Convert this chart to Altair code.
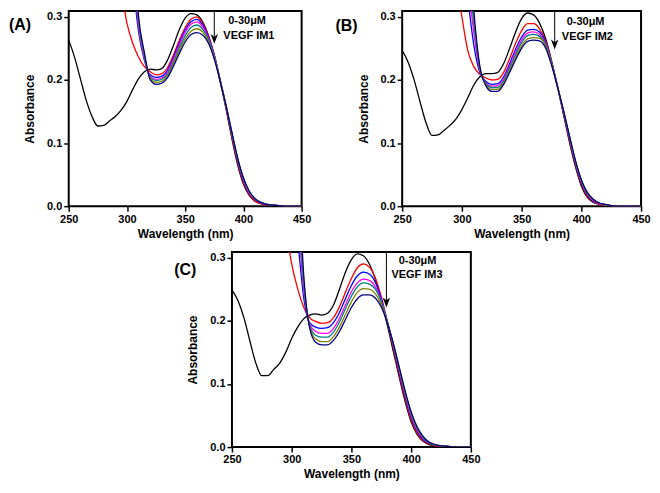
import altair as alt
import pandas as pd

FONT = "Liberation Sans"

BLACK_WL = [250, 255, 260, 265, 270, 275, 280, 285, 290, 295, 300, 305, 310, 315, 320, 325, 330,
            335, 340, 345, 350, 355, 360, 365, 370, 375, 380, 385, 390, 395, 400, 405, 410, 415,
            420, 430, 440, 450]
COLOR_WL = [295, 300, 305, 310, 315, 320, 325, 330, 335, 340, 345, 350, 355, 360, 365, 370, 375,
            380, 385, 390, 395, 400, 405, 410, 415, 420, 430, 440, 450]

# ---------------- Panel A ----------------
A_BLACK = [0.263, 0.236, 0.202, 0.168, 0.142, 0.127, 0.128, 0.135, 0.142, 0.152, 0.166, 0.185, 0.202,
           0.213, 0.217, 0.216, 0.218, 0.232, 0.255, 0.280, 0.298, 0.305, 0.303, 0.292, 0.270, 0.238,
           0.198, 0.155, 0.108, 0.066, 0.035, 0.017, 0.008, 0.004, 0.002, 0.001, 0.0, 0.0]
A_RED = [0.345, 0.290, 0.258, 0.236, 0.221, 0.213, 0.208, 0.210, 0.220, 0.240, 0.263, 0.283, 0.296,
         0.300, 0.290, 0.270, 0.240, 0.200, 0.157, 0.111, 0.069, 0.037, 0.018, 0.008, 0.004, 0.002,
         0.001, 0.0, 0.0]
A_BLUE = [0.60, 0.46, 0.36, 0.276, 0.231, 0.208, 0.204, 0.206, 0.216, 0.236, 0.259, 0.279, 0.292,
          0.296, 0.287, 0.268, 0.239, 0.200, 0.159, 0.114, 0.072, 0.040, 0.020, 0.010, 0.005, 0.003,
          0.001, 0.0, 0.0]
A_MAGENTA = [0.65, 0.50, 0.38, 0.283, 0.234, 0.206, 0.201, 0.203, 0.213, 0.233, 0.255, 0.275, 0.288,
             0.292, 0.284, 0.266, 0.238, 0.200, 0.160, 0.115, 0.074, 0.042, 0.021, 0.011, 0.005,
             0.003, 0.001, 0.0, 0.0]
A_TEAL = [0.70, 0.54, 0.40, 0.290, 0.237, 0.204, 0.199, 0.201, 0.210, 0.229, 0.251, 0.270, 0.283,
          0.287, 0.280, 0.264, 0.237, 0.200, 0.160, 0.116, 0.075, 0.043, 0.022, 0.011, 0.006, 0.003,
          0.001, 0.0, 0.0]
A_OLIVE = [0.75, 0.58, 0.42, 0.295, 0.240, 0.202, 0.196, 0.198, 0.207, 0.226, 0.247, 0.265, 0.277,
           0.281, 0.276, 0.261, 0.235, 0.199, 0.160, 0.117, 0.076, 0.044, 0.023, 0.012, 0.006, 0.003,
           0.001, 0.0, 0.0]
A_NAVY = [0.80, 0.62, 0.44, 0.300, 0.243, 0.200, 0.193, 0.195, 0.204, 0.222, 0.242, 0.260, 0.272,
          0.275, 0.271, 0.258, 0.233, 0.198, 0.160, 0.118, 0.077, 0.045, 0.024, 0.012, 0.006, 0.003,
          0.001, 0.0, 0.0]

# ---------------- Panel B ----------------
B_BLACK = [0.247, 0.228, 0.200, 0.165, 0.132, 0.112, 0.113, 0.120, 0.128, 0.138, 0.153, 0.172, 0.192,
           0.205, 0.210, 0.210, 0.212, 0.226, 0.250, 0.276, 0.297, 0.306, 0.303, 0.290, 0.266, 0.231,
           0.190, 0.146, 0.102, 0.063, 0.032, 0.014, 0.006, 0.003, 0.001, 0.0, 0.0, 0.0]
B_RED = [0.36, 0.300, 0.246, 0.221, 0.209, 0.203, 0.200, 0.201, 0.212, 0.234, 0.258, 0.278, 0.289,
         0.289, 0.281, 0.262, 0.229, 0.190, 0.148, 0.105, 0.066, 0.035, 0.016, 0.007, 0.003, 0.001,
         0.0, 0.0, 0.0]
B_BLUE = [0.55, 0.42, 0.33, 0.255, 0.212, 0.198, 0.193, 0.194, 0.205, 0.226, 0.249, 0.268, 0.279,
          0.280, 0.276, 0.260, 0.228, 0.190, 0.149, 0.107, 0.068, 0.037, 0.018, 0.008, 0.004, 0.002,
          0.0, 0.0, 0.0]
B_MAGENTA = [0.62, 0.48, 0.36, 0.275, 0.215, 0.196, 0.190, 0.191, 0.202, 0.222, 0.244, 0.263, 0.274,
             0.276, 0.272, 0.258, 0.228, 0.190, 0.150, 0.109, 0.070, 0.039, 0.019, 0.009, 0.004,
             0.002, 0.0, 0.0, 0.0]
B_TEAL = [0.68, 0.52, 0.39, 0.290, 0.218, 0.195, 0.188, 0.188, 0.199, 0.219, 0.240, 0.259, 0.270,
          0.272, 0.269, 0.256, 0.227, 0.190, 0.151, 0.110, 0.071, 0.040, 0.020, 0.010, 0.005, 0.002,
          0.0, 0.0, 0.0]
B_OLIVE = [0.74, 0.56, 0.42, 0.300, 0.220, 0.193, 0.185, 0.185, 0.196, 0.215, 0.236, 0.254, 0.265,
           0.267, 0.266, 0.254, 0.226, 0.190, 0.152, 0.111, 0.072, 0.041, 0.021, 0.010, 0.005, 0.002,
           0.0, 0.0, 0.0]
B_NAVY = [0.80, 0.60, 0.45, 0.310, 0.222, 0.191, 0.182, 0.182, 0.193, 0.212, 0.232, 0.250, 0.261,
          0.263, 0.262, 0.251, 0.224, 0.189, 0.152, 0.112, 0.073, 0.042, 0.022, 0.011, 0.005, 0.003,
          0.0, 0.0, 0.0]

# ---------------- Panel C ----------------
C_BLACK = [0.249, 0.232, 0.205, 0.168, 0.133, 0.113, 0.113, 0.123, 0.133, 0.150, 0.172, 0.190, 0.203,
           0.209, 0.211, 0.209, 0.212, 0.225, 0.250, 0.277, 0.297, 0.306, 0.303, 0.290, 0.266, 0.232,
           0.194, 0.152, 0.111, 0.072, 0.040, 0.020, 0.009, 0.004, 0.002, 0.001, 0.0, 0.0]
C_RED = [0.35, 0.290, 0.251, 0.222, 0.205, 0.199, 0.196, 0.197, 0.205, 0.222, 0.245, 0.267, 0.284,
         0.290, 0.285, 0.268, 0.238, 0.199, 0.157, 0.115, 0.076, 0.043, 0.022, 0.010, 0.005, 0.002,
         0.001, 0.0, 0.0]
C_BLUE = [0.55, 0.42, 0.33, 0.238, 0.197, 0.190, 0.188, 0.189, 0.197, 0.213, 0.235, 0.256, 0.271,
          0.277, 0.274, 0.261, 0.235, 0.199, 0.160, 0.119, 0.080, 0.047, 0.025, 0.012, 0.006, 0.003,
          0.001, 0.0, 0.0]
C_TEAL = [0.62, 0.48, 0.37, 0.250, 0.195, 0.183, 0.180, 0.180, 0.188, 0.204, 0.225, 0.246, 0.260,
          0.266, 0.264, 0.254, 0.232, 0.199, 0.162, 0.122, 0.083, 0.050, 0.027, 0.014, 0.007, 0.003,
          0.001, 0.0, 0.0]
C_MAGENTA = [0.68, 0.52, 0.40, 0.258, 0.193, 0.177, 0.174, 0.174, 0.182, 0.198, 0.219, 0.239, 0.254,
             0.260, 0.258, 0.250, 0.230, 0.199, 0.163, 0.124, 0.085, 0.052, 0.029, 0.015, 0.007,
             0.003, 0.001, 0.0, 0.0]
C_OLIVE = [0.74, 0.56, 0.43, 0.266, 0.191, 0.171, 0.167, 0.167, 0.175, 0.190, 0.210, 0.230, 0.245,
           0.251, 0.250, 0.243, 0.226, 0.198, 0.164, 0.125, 0.087, 0.054, 0.030, 0.016, 0.008, 0.004,
           0.001, 0.0, 0.0]
C_NAVY = [0.80, 0.60, 0.46, 0.275, 0.189, 0.166, 0.162, 0.162, 0.169, 0.183, 0.202, 0.221, 0.235,
          0.241, 0.241, 0.236, 0.222, 0.197, 0.165, 0.127, 0.089, 0.056, 0.032, 0.017, 0.008, 0.004,
          0.001, 0.0, 0.0]

X_TICKS = [250, 275, 300, 325, 350, 375, 400, 425, 450]
Y_TICKS = [0.0, 0.05, 0.1, 0.15, 0.2, 0.25, 0.3]

BLACK = "#000000"
RED = "#ff0000"
BLUE = "#0000ff"
MAGENTA = "#ff00ff"
TEAL = "#008080"
OLIVE = "#808000"
NAVY = "#000080"


def build_df(black, colored):
    rows = [{"wl": w, "absorb": v, "s": "s0"} for w, v in zip(BLACK_WL, black)]
    for i, ys in enumerate(colored, start=1):
        rows += [{"wl": w, "absorb": v, "s": f"s{i}"} for w, v in zip(COLOR_WL, ys)]
    return pd.DataFrame(rows)


ONE = pd.DataFrame({"k": [0]})
ARROW_PATH = "M0,1L-0.75,-1L0,-0.45L0.75,-1Z"


def panel(df, colors, letter, name, width, height, letter_x, letter_y,
          arrow_x, head_y, t1_x, t1_y, t2_x, t2_y):
    x = alt.X("wl:Q",
              scale=alt.Scale(domain=[250, 450], nice=False, zero=False),
              axis=alt.Axis(values=X_TICKS, title="Wavelength (nm)",
                            labelExpr="datum.value % 50 === 0 ? datum.label : ''",
                            tickSize={"condition": {"test": "datum.value % 50 === 0", "value": 5},
                                      "value": 2.5},
                            labelFlush=False, labelOverlap=False, domain=False,
                            labelPadding=2, titlePadding=4, grid=False))
    y = alt.Y("absorb:Q",
              scale=alt.Scale(domain=[0, 0.309], nice=False, zero=False),
              axis=alt.Axis(values=Y_TICKS, title="Absorbance",
                            labelExpr="round(datum.value*100) % 10 === 0 ? format(datum.value, '.1f') : ''",
                            tickSize={"condition": {"test": "round(datum.value*100) % 10 === 0", "value": 5},
                                      "value": 2.5},
                            labelOverlap=False, domain=False, labelPadding=2,
                            titlePadding=10, grid=False))
    lines = alt.Chart(df).mark_line(clip=True, strokeWidth=1.3, interpolate="monotone").encode(
        x=x, y=y,
        color=alt.Color("s:N", scale=alt.Scale(domain=[f"s{i}" for i in range(len(colors))],
                                               range=colors), legend=None),
    )
    base = alt.Chart(ONE)
    rule = base.mark_rule(color="black", strokeWidth=1).encode(
        x=alt.datum(arrow_x), y=alt.datum(0.309), y2=alt.datum(head_y + 0.003))
    head = base.mark_point(shape=ARROW_PATH, filled=True, size=100, color="black",
                           opacity=1, strokeWidth=0).encode(
        x=alt.datum(arrow_x), y=alt.datum(head_y))
    txt_style = dict(align="left", baseline="alphabetic", font=FONT, fontSize=11,
                     fontWeight="bold", color="black")
    t1 = base.mark_text(**txt_style).encode(x=alt.datum(t1_x), y=alt.datum(t1_y),
                                            text=alt.value("0-30μM"))
    t2 = base.mark_text(**txt_style).encode(x=alt.datum(t2_x), y=alt.datum(t2_y),
                                            text=alt.value(name))
    lab = base.mark_text(align="left", baseline="middle", font=FONT, fontSize=16,
                         fontWeight="bold", color="black").encode(
        x=alt.value(letter_x), y=alt.value(letter_y), text=alt.value(letter))
    return alt.layer(lines, rule, head, t1, t2, lab).properties(width=width, height=height)


panel_a = panel(build_df(A_BLACK, [A_RED, A_BLUE, A_MAGENTA, A_TEAL, A_OLIVE, A_NAVY]),
                [BLACK, RED, BLUE, MAGENTA, TEAL, OLIVE, NAVY], "(A)", "VEGF IM1",
                234, 196, -60, 14, 375, 0.265, 387, 0.288, 382.8, 0.265)
panel_b = panel(build_df(B_BLACK, [B_RED, B_BLUE, B_MAGENTA, B_TEAL, B_OLIVE, B_NAVY]),
                [BLACK, RED, BLUE, MAGENTA, TEAL, OLIVE, NAVY], "(B)", "VEGF IM2",
                240, 196, -67, 15, 377.7, 0.256, 387.8, 0.287, 383.7, 0.264)
panel_c = panel(build_df(C_BLACK, [C_RED, C_BLUE, C_TEAL, C_MAGENTA, C_OLIVE, C_NAVY]),
                [BLACK, RED, BLUE, TEAL, MAGENTA, OLIVE, NAVY], "(C)", "VEGF IM3",
                240, 196, -58, 18, 379.3, 0.229, 389.6, 0.2907, 383.5, 0.267)

spacer = alt.Chart(ONE).mark_point(opacity=0).encode(
    x=alt.value(0), y=alt.value(0)).properties(
    width=104, height=10, view=alt.ViewBackground(stroke="transparent"))

top = alt.hconcat(panel_a, panel_b, spacing=22)
bottom = alt.hconcat(spacer, panel_c, spacing=0)

chart = alt.vconcat(top, bottom, spacing=8).properties(padding=0).configure_view(
    stroke="black", strokeWidth=2
).configure_axis(
    labelFont=FONT, labelFontSize=11, labelFontWeight="bold", labelColor="black",
    titleFont=FONT, titleFontSize=12, titleFontWeight="bold", titleColor="black",
    tickColor="black", tickWidth=1.5
)

chart.save("out.html", embed_options={"renderer": "svg", "actions": False})
